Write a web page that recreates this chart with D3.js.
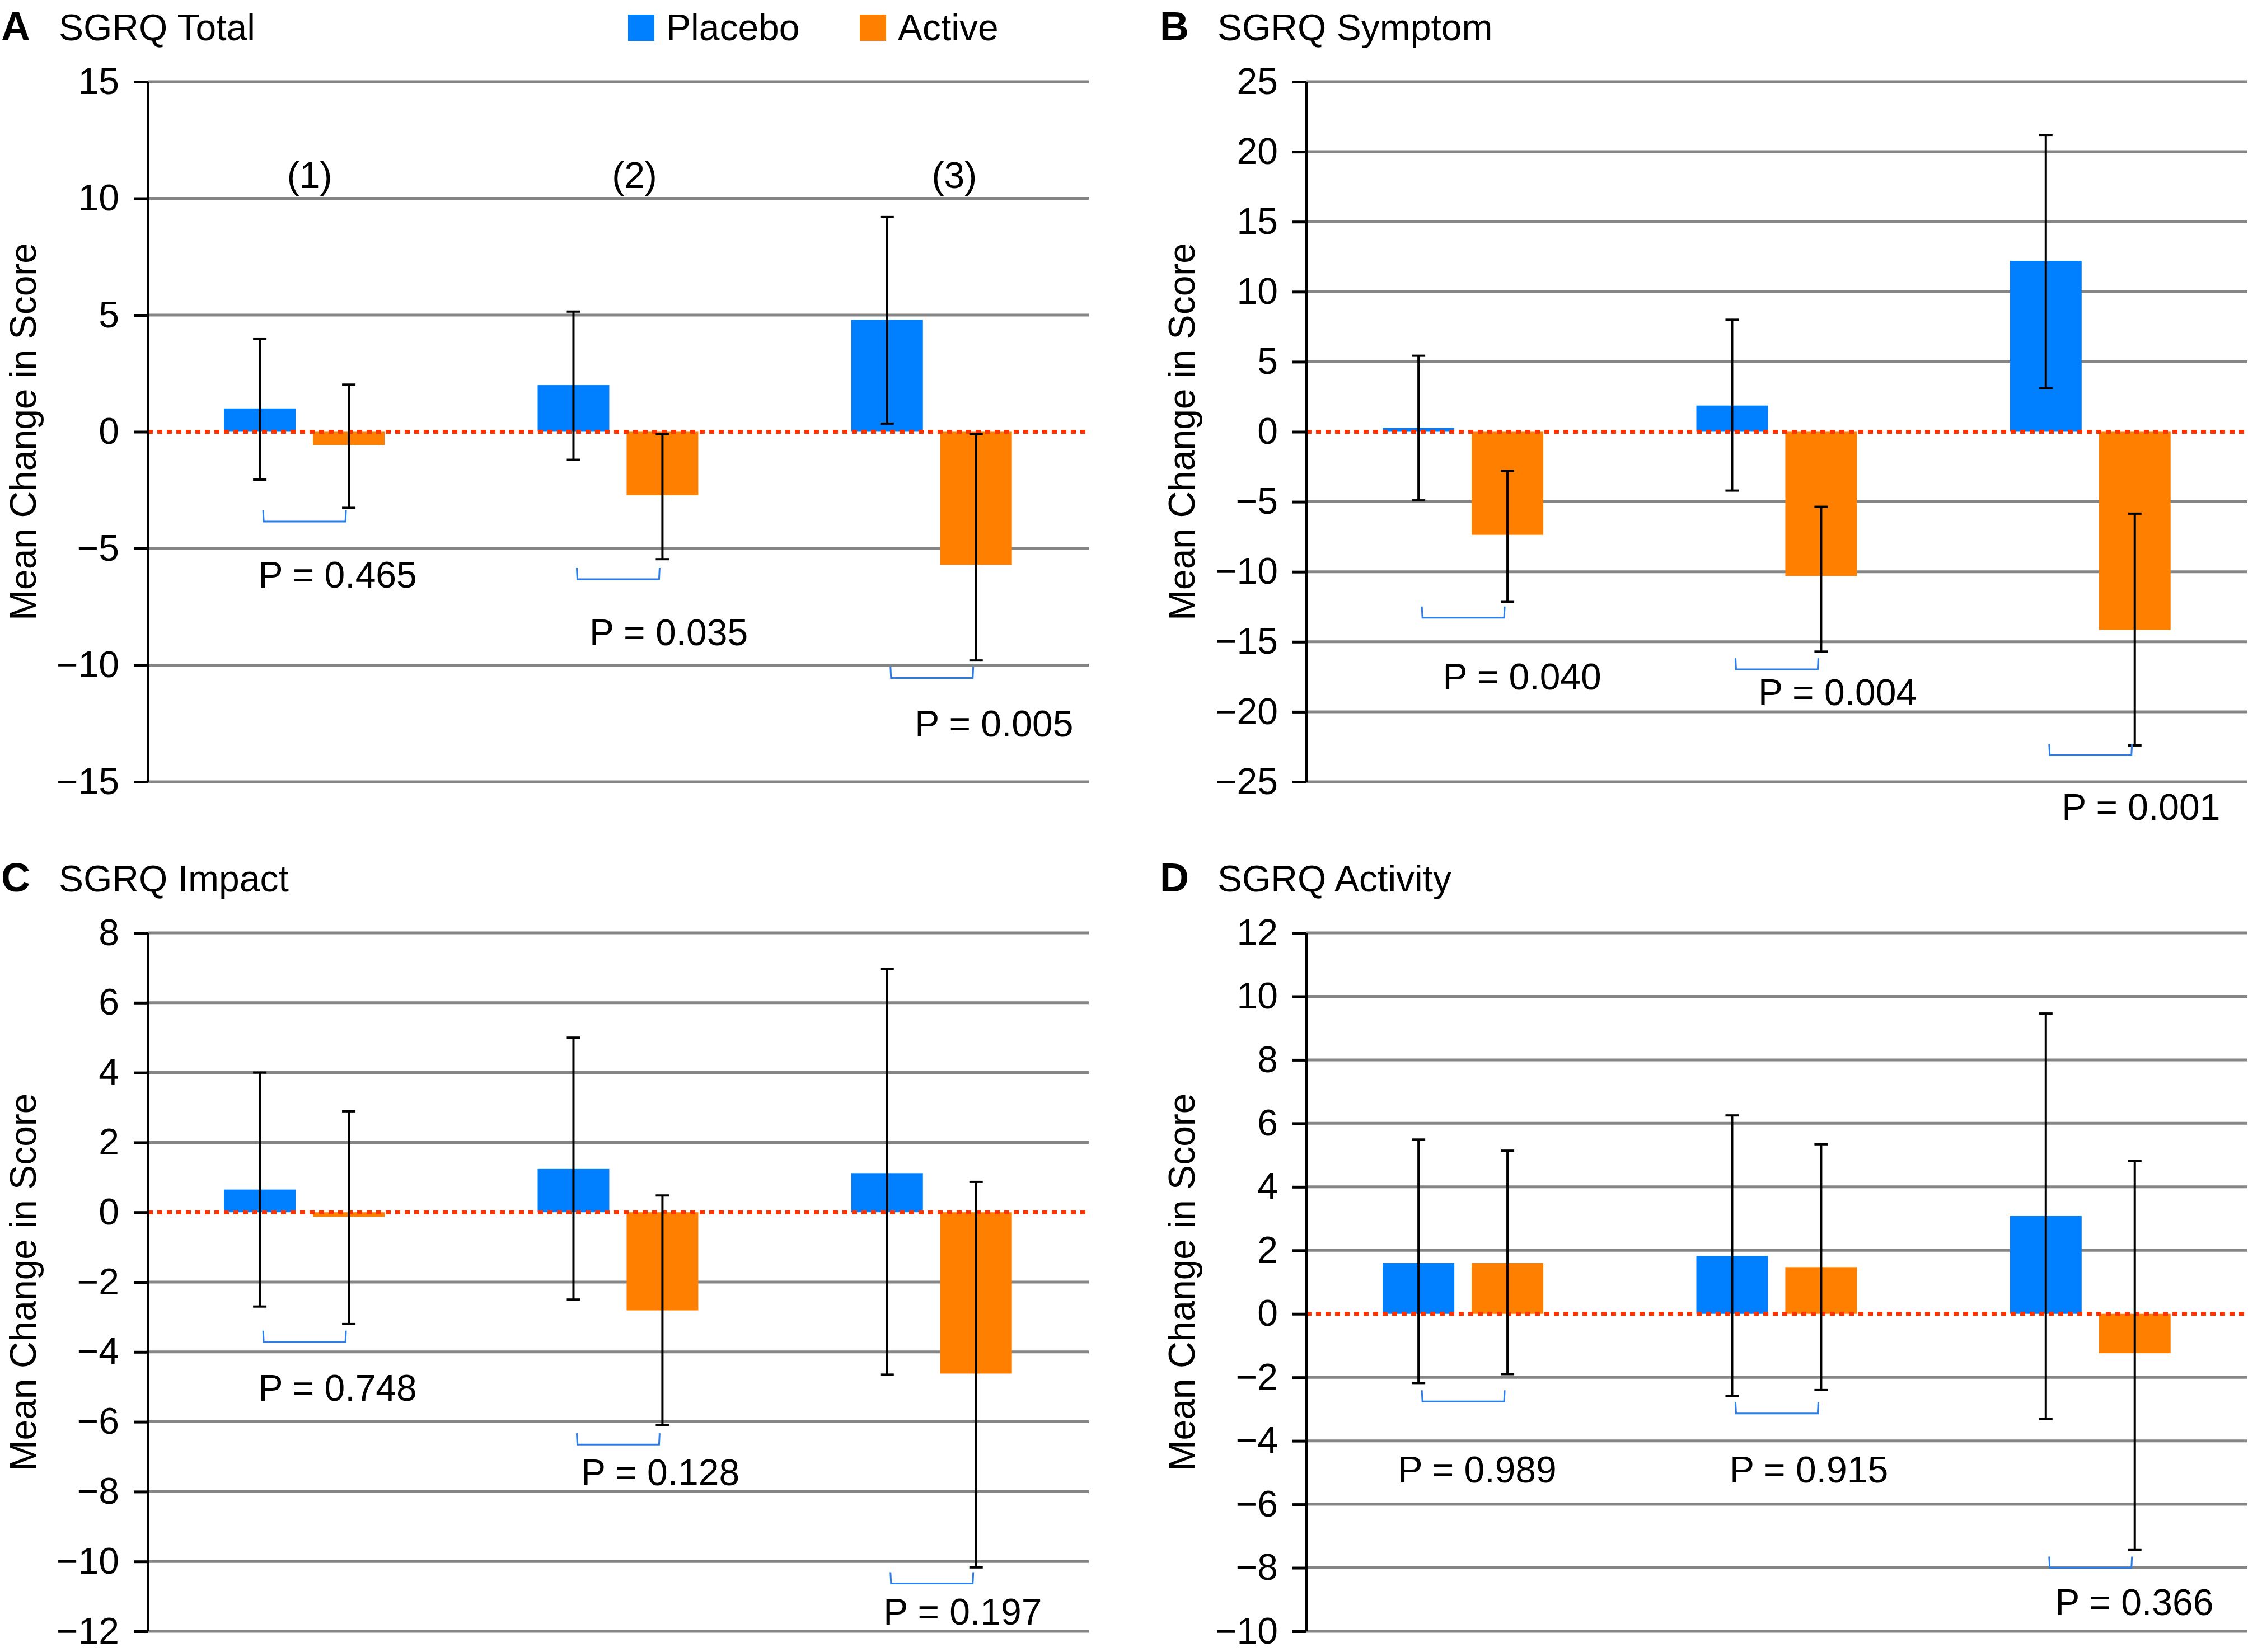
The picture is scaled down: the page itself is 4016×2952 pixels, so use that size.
<!DOCTYPE html>
<html>
<head>
<meta charset="utf-8">
<script src="https://cdnjs.cloudflare.com/ajax/libs/d3/7.8.5/d3.min.js"></script>
<style>
  html, body { margin: 0; padding: 0; background: #ffffff; }
  svg { display: block; }
  text { font-family: "Liberation Sans", Arial, Helvetica, sans-serif; fill: #000; }
</style>
</head>
<body>
<svg id="chart" width="4016" height="2952"></svg>
<script>
// ---------------- DATA ----------------
const groups = ["(1)", "(2)", "(3)"];
const series = ["Placebo", "Active"];

// Panel A – SGRQ Total
const totalPlacebo    = [1.0, 2.0, 4.8];
const totalPlaceboLo  = [-2.05, -1.2, 0.35];
const totalPlaceboHi  = [3.97, 5.15, 9.2];
const totalActive     = [-0.57, -2.72, -5.7];
const totalActiveLo   = [-3.26, -5.46, -9.8];
const totalActiveHi   = [2.02, -0.1, -0.1];
const totalP          = ["P = 0.465", "P = 0.035", "P = 0.005"];
const totalBracketY   = [-3.85, -6.32, -10.55];
const totalPLabelY    = [-6.12, -8.6, -12.5];

// Panel B – SGRQ Symptom
const symptomPlacebo   = [0.27, 1.87, 12.2];
const symptomPlaceboLo = [-4.9, -4.2, 3.1];
const symptomPlaceboHi = [5.43, 8.0, 21.2];
const symptomActive    = [-7.36, -10.3, -14.15];
const symptomActiveLo  = [-12.15, -15.7, -22.4];
const symptomActiveHi  = [-2.8, -5.36, -5.85];
const symptomP         = ["P = 0.040", "P = 0.004", "P = 0.001"];
const symptomBracketY  = [-13.28, -16.97, -23.1];
const symptomPLabelY   = [-17.48, -18.6, -26.8];

// Panel C – SGRQ Impact
const impactPlacebo   = [0.65, 1.24, 1.12];
const impactPlaceboLo = [-2.7, -2.5, -4.65];
const impactPlaceboHi = [4.0, 5.0, 6.97];
const impactActive    = [-0.13, -2.81, -4.62];
const impactActiveLo  = [-3.2, -6.09, -10.17];
const impactActiveHi  = [2.89, 0.48, 0.87];
const impactP         = ["P = 0.748", "P = 0.128", "P = 0.197"];
const impactBracketY  = [-3.71, -6.65, -10.63];
const impactPLabelY   = [-5.03, -7.44, -11.43];

// Panel D – SGRQ Activity
const activityPlacebo   = [1.6, 1.82, 3.08];
const activityPlaceboLo = [-2.18, -2.58, -3.31];
const activityPlaceboHi = [5.49, 6.25, 9.46];
const activityActive    = [1.6, 1.47, -1.24];
const activityActiveLo  = [-1.9, -2.4, -7.44];
const activityActiveHi  = [5.14, 5.34, 4.81];
const activityP         = ["P = 0.989", "P = 0.915", "P = 0.366"];
const activityBracketY  = [-2.76, -3.14, -8.0];
const activityPLabelY   = [-4.91, -4.91, -9.08];

// Axis tick values
const totalTicks    = [-15, -10, -5, 0, 5, 10, 15];
const symptomTicks  = [-25, -20, -15, -10, -5, 0, 5, 10, 15, 20, 25];
const impactTicks   = [-12, -10, -8, -6, -4, -2, 0, 2, 4, 6, 8];
const activityTicks = [-10, -8, -6, -4, -2, 0, 2, 4, 6, 8, 10, 12];

const yTitle = "Mean Change in Score";

// ---------------- LAYOUT ----------------
const colors = { Placebo: "#0080ff", Active: "#ff8000" };
const FS = 66;
const plotW = 1681;

const panels = [
  { letter: "A", title: "SGRQ Total", x0: 264, top: 146, bottom: 1397, ticks: totalTicks,
    placebo: totalPlacebo, pLo: totalPlaceboLo, pHi: totalPlaceboHi,
    active: totalActive, aLo: totalActiveLo, aHi: totalActiveHi,
    pvals: totalP, bracketY: totalBracketY, labelY: totalPLabelY, labelDx: [59, 90, 111],
    showGroups: true, legend: true },
  { letter: "B", title: "SGRQ Symptom", x0: 2334, top: 146, bottom: 1397, ticks: symptomTicks,
    placebo: symptomPlacebo, pLo: symptomPlaceboLo, pHi: symptomPlaceboHi,
    active: symptomActive, aLo: symptomActiveLo, aHi: symptomActiveHi,
    pvals: symptomP, bracketY: symptomBracketY, labelY: symptomPLabelY, labelDx: [105, 108, 90] },
  { letter: "C", title: "SGRQ Impact", x0: 264, top: 1667, bottom: 2915, ticks: impactTicks,
    placebo: impactPlacebo, pLo: impactPlaceboLo, pHi: impactPlaceboHi,
    active: impactActive, aLo: impactActiveLo, aHi: impactActiveHi,
    pvals: impactP, bracketY: impactBracketY, labelY: impactPLabelY, labelDx: [59, 75, 55] },
  { letter: "D", title: "SGRQ Activity", x0: 2334, top: 1667, bottom: 2915, ticks: activityTicks,
    placebo: activityPlacebo, pLo: activityPlaceboLo, pHi: activityPlaceboHi,
    active: activityActive, aLo: activityActiveLo, aHi: activityActiveHi,
    pvals: activityP, bracketY: activityBracketY, labelY: activityPLabelY, labelDx: [25, 57, 78] }
];

const svg = d3.select("#chart");
const fmt = d3.format("d"); // uses U+2212 minus

panels.forEach(p => {
  const g = svg.append("g").attr("transform", `translate(${p.x0},0)`);
  const x0 = d3.scaleBand().domain(groups).range([0, plotW]).paddingInner(0).paddingOuter(0);
  const bw = x0.bandwidth();
  const x1 = d3.scaleBand().domain(series).range([0.243 * bw, 0.755 * bw]).paddingInner(0.195).paddingOuter(0);
  const y = d3.scaleLinear().domain(d3.extent(p.ticks)).range([p.bottom, p.top]);

  // gridlines (except zero)
  g.append("g").selectAll("line").data(p.ticks.filter(t => t !== 0)).join("line")
    .attr("x1", 0).attr("x2", plotW)
    .attr("y1", d => y(d)).attr("y2", d => y(d))
    .attr("stroke", "#858585").attr("stroke-width", 5);

  // bars
  const rows = [];
  groups.forEach((grp, i) => {
    rows.push({ grp, s: "Placebo", v: p.placebo[i], lo: p.pLo[i], hi: p.pHi[i] });
    rows.push({ grp, s: "Active", v: p.active[i], lo: p.aLo[i], hi: p.aHi[i] });
  });
  g.append("g").selectAll("rect").data(rows).join("rect")
    .attr("x", d => x0(d.grp) + x1(d.s))
    .attr("width", x1.bandwidth())
    .attr("y", d => Math.min(y(d.v), y(0)))
    .attr("height", d => Math.abs(y(d.v) - y(0)))
    .attr("fill", d => colors[d.s]);

  // zero dotted line
  g.append("line").attr("x1", 0).attr("x2", plotW).attr("y1", y(0)).attr("y2", y(0))
    .attr("stroke", "#ff3300").attr("stroke-width", 7).attr("stroke-dasharray", "9,8");

  // error bars
  const eb = g.append("g").attr("stroke", "#000").attr("stroke-width", 4);
  const cx = d => x0(d.grp) + x1(d.s) + x1.bandwidth() / 2;
  eb.selectAll("line.v").data(rows).join("line").attr("class", "v")
    .attr("x1", cx).attr("x2", cx).attr("y1", d => y(d.lo)).attr("y2", d => y(d.hi));
  eb.selectAll("line.hi").data(rows).join("line").attr("class", "hi")
    .attr("x1", d => cx(d) - 12).attr("x2", d => cx(d) + 12).attr("y1", d => y(d.hi)).attr("y2", d => y(d.hi));
  eb.selectAll("line.lo").data(rows).join("line").attr("class", "lo")
    .attr("x1", d => cx(d) - 12).attr("x2", d => cx(d) + 12).attr("y1", d => y(d.lo)).attr("y2", d => y(d.lo));

  // y axis
  const axis = d3.axisLeft(y).tickValues(p.ticks).tickFormat(fmt).tickSize(25).tickPadding(26);
  const ag = g.append("g").call(axis);
  ag.select(".domain").attr("stroke", "#000").attr("stroke-width", 4)
    .attr("d", `M0,${p.top}V${p.bottom}`);
  ag.selectAll(".tick line").attr("stroke", "#000").attr("stroke-width", 5);
  ag.selectAll(".tick text").attr("font-size", FS).attr("font-family", "Liberation Sans, Arial, sans-serif").attr("fill", "#000");

  // brackets
  g.append("g").selectAll("path").data(groups).join("path")
    .attr("d", (grp, i) => {
      const xa = x0(grp) + x1("Placebo") + x1.bandwidth() / 2 + 6;
      const xb = x0(grp) + x1("Active") + x1.bandwidth() / 2 - 5;
      const yy = y(p.bracketY[i]);
      return `M${xa},${yy - 20}L${xa + 1},${yy}L${xb - 1},${yy}L${xb},${yy - 20}`;
    })
    .attr("fill", "none").attr("stroke", "#2b7de9").attr("stroke-width", 3);

  // P labels
  g.append("g").selectAll("text").data(p.pvals).join("text")
    .attr("x", (d, i) => x0(groups[i]) + bw / 2 + p.labelDx[i])
    .attr("y", (d, i) => y(p.labelY[i]))
    .attr("dy", "0.35em").attr("text-anchor", "middle").attr("font-size", FS)
    .text(d => d);

  // group labels
  if (p.showGroups) {
    const gdx = [9, 29, 40];
    g.append("g").selectAll("text").data(groups).join("text")
      .attr("x", (d, i) => x0(d) + bw / 2 + gdx[i])
      .attr("y", y(11.0)).attr("dy", "0.35em")
      .attr("text-anchor", "middle").attr("font-size", FS).text(d => d);
  }

  // y title
  g.append("text").attr("transform", `translate(-200,${(p.top + p.bottom) / 2}) rotate(-90)`)
    .attr("text-anchor", "middle").attr("font-size", FS).text(yTitle);

  // panel letter and title
  g.append("text").attr("x", -262).attr("y", p.top - 74).attr("font-size", 72).attr("font-weight", "bold").text(p.letter);
  g.append("text").attr("x", -159).attr("y", p.top - 74).attr("font-size", FS).text(p.title);

  // legend
  if (p.legend) {
    const lg = svg.append("g");
    const lx = [1122, 1536];
    series.forEach((s, i) => {
      lg.append("rect").attr("x", lx[i]).attr("y", 26).attr("width", 47).attr("height", 47).attr("fill", colors[s]);
      lg.append("text").attr("x", lx[i] + 68).attr("y", 72).attr("font-size", FS).text(s);
    });
  }
});
</script>
</body>
</html>
